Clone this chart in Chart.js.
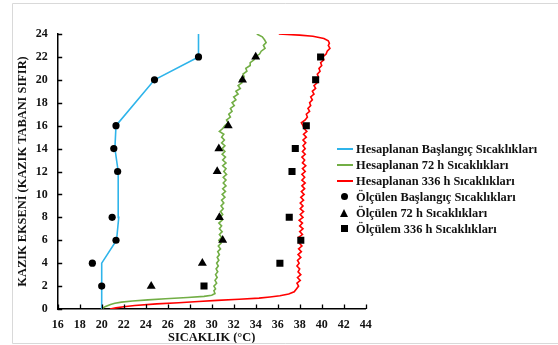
<!doctype html>
<html lang="tr">
<head>
<meta charset="UTF-8">
<title>Kazık sıcaklıkları</title>
<script src="https://cdn.jsdelivr.net/npm/chart.js"></script>
<style>
    body {
        margin: 0;
        background: #fff;
    }
    .wrap {
        position: relative;
        width: 558px;
        height: 345px;
    }
    .legend {
        position: absolute;
        left: 337px;
        top: 141px;
        font-family: "Liberation Serif", "Times New Roman", serif;
        font-weight: bold;
        font-size: 12.4px;
        color: #111;
    }
    .legend .row {
        height: 16px;
        line-height: 16px;
        white-space: nowrap;
        display: flex;
        align-items: center;
    }
    .legend .sym {
        width: 16px;
        height: 16px;
        margin-right: 3px;
        position: relative;
    }
    .sym .ln {
        position: absolute;
        left: 0;
        top: 7px;
        width: 16px;
        height: 2px;
    }
    .sym .dot {
        position: absolute;
        left: 4px;
        top: 4px;
        width: 7px;
        height: 7px;
        border-radius: 50%;
        background: #000;
    }
    .sym .tri {
        position: absolute;
        left: 3px;
        top: 4px;
        width: 0;
        height: 0;
        border-left: 4.5px solid transparent;
        border-right: 4.5px solid transparent;
        border-bottom: 8px solid #000;
    }
    .sym .sq {
        position: absolute;
        left: 4px;
        top: 4px;
        width: 7px;
        height: 7px;
        background: #000;
    }
</style>
</head>
<body>
<div class="wrap">
    <canvas id="tempChart" width="558" height="345"></canvas>
    <div class="legend" id="legend"></div>
</div>

<script>
    // derinlik (m) / sicaklik (°C)
    const hesapBaslangicDerinlik = [0, 4, 6, 8, 10, 12, 14, 16, 20, 22, 24];
    const hesapBaslangicSicaklik = [20.0, 20.0, 21.35, 21.55, 21.5, 21.5, 21.2, 21.3, 24.8, 28.8, 28.8];

    const hesap72Derinlik = [0, 0.2, 0.4, 0.5, 0.6, 0.7, 0.8, 0.9, 1.0, 1.1, 1.2, 1.35, 1.6,
        1.75, 2.0, 2.25, 2.5, 2.75, 3.0, 3.25, 3.5, 3.75, 4.0, 4.25, 4.5, 4.75, 5.0, 5.25, 5.5, 5.75,
        6.0, 6.25, 6.5, 6.75, 7.0, 7.25, 7.5, 7.75, 8.0, 8.25, 8.5, 8.75, 9.0, 9.25, 9.5, 9.75,
        10.0, 10.25, 10.5, 10.75, 11.0, 11.25, 11.5, 11.75, 12.0, 12.25, 12.5, 12.75, 13.0, 13.25,
        13.5, 13.75, 14.0, 14.25, 14.5, 14.75, 15.0, 15.25, 15.5, 15.75, 16.0, 16.25, 16.5, 16.75,
        17.0, 17.25, 17.5, 17.75, 18.0, 18.25, 18.5, 18.75, 19.0, 19.25, 19.5, 19.75, 20.0, 20.25,
        20.5, 20.75, 21.0, 21.25, 21.5, 21.75, 22.0, 22.25, 22.5, 22.75, 23.0, 23.25, 23.5, 23.75, 24.0];
    const hesap72Sicaklik = [20.0, 20.3, 20.8, 21.2, 21.8, 22.8, 24.2, 25.8, 27.8, 29.3, 30.0, 30.3, 30.2,
        30.35, 30.2, 30.45, 30.3, 30.5, 30.35, 30.55, 30.4, 30.6, 30.45, 30.65, 30.5, 30.7, 30.55, 30.8, 30.6, 30.85,
        30.65, 30.9, 30.7, 30.95, 30.7, 30.9, 30.65, 30.95, 30.75, 31.0, 30.8, 31.05, 30.85, 31.1, 30.9, 31.2,
        30.95, 31.25, 31.0, 31.3, 31.05, 31.3, 31.05, 31.35, 31.1, 31.3, 31.0, 31.3, 31.0, 31.25,
        30.95, 31.2, 30.95, 31.2, 30.9, 31.15, 30.9, 31.1, 30.7, 31.0, 31.2, 31.5, 31.35, 31.7,
        31.55, 31.85, 31.7, 32.05, 31.85, 32.2, 32.0, 32.4, 32.2, 32.6, 32.4, 32.75, 32.6, 32.95,
        32.85, 33.2, 33.1, 33.5, 33.5, 33.85, 33.95, 34.35, 34.5, 34.85, 34.7, 34.95, 34.8, 34.6, 34.1];

    const hesap336Derinlik = [0, 0.1, 0.2, 0.3, 0.45, 0.55, 0.65, 0.75, 0.85, 0.95, 1.05, 1.15, 1.3, 1.5, 1.75,
        2.0, 2.25, 2.5, 2.75, 3.0, 3.25, 3.5, 3.75, 4.0, 4.25, 4.5, 4.75, 5.0, 5.25, 5.5, 5.75,
        6.0, 6.25, 6.5, 6.75, 7.0, 7.25, 7.5, 7.75, 8.0, 8.25, 8.5, 8.75, 9.0, 9.25, 9.5, 9.75,
        10.0, 10.25, 10.5, 10.75, 11.0, 11.25, 11.5, 11.75, 12.0, 12.25, 12.5, 12.75, 13.0, 13.25,
        13.5, 13.75, 14.0, 14.25, 14.5, 14.75, 15.0, 15.25, 15.5, 15.75, 16.0, 16.25, 16.5, 16.75,
        17.0, 17.25, 17.5, 17.75, 18.0, 18.25, 18.5, 18.75, 19.0, 19.25, 19.5, 19.75, 20.0, 20.25,
        20.5, 20.75, 21.0, 21.25, 21.5, 21.75, 22.0, 22.25, 22.5, 22.75, 23.0, 23.2, 23.4, 23.6,
        23.8, 23.9, 24.0];
    const hesap336Sicaklik = [20.75, 21.3, 22.0, 23.0, 25.0, 27.0, 28.8, 30.5, 32.5, 34.3, 35.3, 36.2, 37.0, 37.5, 37.7,
        37.9, 37.75, 38.05, 37.8, 38.1, 37.85, 38.0, 37.75, 37.95, 37.8, 38.1, 37.85, 38.15, 37.9, 38.2, 37.95,
        38.2, 37.9, 38.25, 38.0, 38.3, 38.0, 38.25, 37.95, 38.3, 38.05, 38.35, 38.05, 38.3, 38.05, 38.35, 38.1,
        38.4, 38.15, 38.45, 38.2, 38.5, 38.2, 38.45, 38.2, 38.5, 38.25, 38.55, 38.25, 38.45, 38.2,
        38.5, 38.25, 38.5, 38.3, 38.55, 38.3, 38.6, 38.35, 38.65, 38.4, 38.3, 38.15, 38.5, 38.7,
        38.6, 38.9, 38.75, 39.0, 38.9, 39.15, 39.0, 39.3, 39.15, 39.45, 39.3, 39.6, 39.45, 39.7,
        39.6, 39.85, 39.75, 40.0, 39.9, 40.2, 40.1, 40.4, 40.5, 40.75, 40.6, 40.7, 40.6, 40.2,
        39.2, 38.0, 36.1];

    const olcumDerinlik = [2, 4, 6, 8, 12, 14, 16, 20, 22];
    const olcumBaslangic = [20.0, 19.15, 21.3, 20.95, 21.45, 21.1, 21.3, 24.8, 28.8];
    const olcum72 = [24.5, 29.15, 31.0, 30.7, 30.5, 30.65, 31.5, 32.8, 34.0];
    const olcum336 = [29.3, 36.2, 38.1, 37.05, 37.3, 37.6, 38.6, 39.45, 39.9];

    const xTicks = [16, 18, 20, 22, 24, 26, 28, 30, 32, 34, 36, 38, 40, 42, 44];
    const yTicks = [0, 2, 4, 6, 8, 10, 12, 14, 16, 18, 20, 22, 24];

    const etiketler = [
        'Hesaplanan Başlangıç Sıcaklıkları',
        'Hesaplanan 72 h Sıcaklıkları',
        'Hesaplanan 336 h Sıcaklıkları',
        'Ölçülen Başlangıç Sıcaklıkları',
        'Ölçülen 72 h Sıcaklıkları',
        'Ölçülem 336 h Sıcaklıkları'
    ];

    const MAVI = '#2fb4ea';
    const YESIL = '#72ae45';
    const KIRMIZI = '#ff0000';

    function noktalar(sicaklik, derinlik) {
        return sicaklik.map((t, i) => ({ x: t, y: derinlik[i] }));
    }

    const serif = '"Liberation Serif", "Times New Roman", serif';

    // eksenlere iceri bakan kucuk tikler + dis cerceve
    const ickiTikler = {
        id: 'ickiTikler',
        afterDraw(chart) {
            const { ctx, scales: { x, y }, chartArea } = chart;
            ctx.save();
            ctx.strokeStyle = '#000';
            ctx.lineWidth = 1.3;
            ctx.beginPath();
            xTicks.forEach(v => {
                const px = Math.round(x.getPixelForValue(v)) + 0.5;
                ctx.moveTo(px, chartArea.bottom);
                ctx.lineTo(px, chartArea.bottom - 4.5);
            });
            yTicks.forEach(v => {
                const py = Math.round(y.getPixelForValue(v)) + 0.5;
                ctx.moveTo(chartArea.left, py);
                ctx.lineTo(chartArea.left + 4.5, py);
            });
            ctx.stroke();

            ctx.strokeStyle = '#d9d9d9';
            ctx.lineWidth = 1;
            ctx.beginPath();
            ctx.moveTo(558, 3.5);
            ctx.lineTo(12.5, 3.5);
            ctx.lineTo(12.5, 343.5);
            ctx.lineTo(558, 343.5);
            ctx.stroke();
            ctx.restore();
        }
    };

    const ctx = document.getElementById('tempChart').getContext('2d');
    const chart = new Chart(ctx, {
        type: 'scatter',
        data: {
            datasets: [
                {
                    label: etiketler[0],
                    data: noktalar(hesapBaslangicSicaklik, hesapBaslangicDerinlik),
                    showLine: true,
                    borderColor: MAVI,
                    borderWidth: 1.6,
                    pointRadius: 0,
                    order: 3
                },
                {
                    label: etiketler[1],
                    data: noktalar(hesap72Sicaklik, hesap72Derinlik),
                    showLine: true,
                    borderColor: YESIL,
                    borderWidth: 1.6,
                    pointRadius: 0,
                    order: 3
                },
                {
                    label: etiketler[2],
                    data: noktalar(hesap336Sicaklik, hesap336Derinlik),
                    showLine: true,
                    borderColor: KIRMIZI,
                    borderWidth: 1.6,
                    pointRadius: 0,
                    order: 3
                },
                {
                    label: etiketler[3],
                    data: noktalar(olcumBaslangic, olcumDerinlik),
                    pointStyle: 'circle',
                    pointRadius: 3.6,
                    backgroundColor: '#000',
                    borderColor: '#000',
                    borderWidth: 0,
                    order: 1
                },
                {
                    label: etiketler[4],
                    data: noktalar(olcum72, olcumDerinlik),
                    pointStyle: 'triangle',
                    pointRadius: 5.2,
                    backgroundColor: '#000',
                    borderColor: '#000',
                    borderWidth: 0,
                    order: 1
                },
                {
                    label: etiketler[5],
                    data: noktalar(olcum336, olcumDerinlik),
                    pointStyle: 'rect',
                    pointRadius: 5,
                    backgroundColor: '#000',
                    borderColor: '#000',
                    borderWidth: 0,
                    order: 1
                }
            ]
        },
        options: {
            responsive: false,
            animation: false,
            devicePixelRatio: 1,
            layout: {
                padding: { left: 12, right: 192.3, top: 34, bottom: 0 }
            },
            plugins: {
                legend: { display: false },
                tooltip: { enabled: false }
            },
            scales: {
                x: {
                    type: 'linear',
                    min: 16,
                    max: 44,
                    afterFit: s => { s.height = 36; },
                    afterBuildTicks: s => { s.ticks = xTicks.map(v => ({ value: v })); },
                    grid: { display: true, drawOnChartArea: false, drawTicks: false },
                    border: { display: true, color: '#000', width: 1.5 },
                    ticks: {
                        padding: 9,
                        color: '#111',
                        font: { family: serif, size: 12, weight: 'bold' }
                    },
                    title: {
                        display: true,
                        text: 'SICAKLIK (°C)',
                        color: '#111',
                        padding: 0,
                        font: { family: serif, size: 12.4, weight: 'bold', lineHeight: 1.2 }
                    }
                },
                y: {
                    type: 'linear',
                    min: 0,
                    max: 24,
                    afterFit: s => { s.width = 45.7; },
                    afterBuildTicks: s => { s.ticks = yTicks.map(v => ({ value: v })); },
                    grid: { display: true, drawOnChartArea: false, drawTicks: false },
                    border: { display: true, color: '#000', width: 1.5 },
                    ticks: {
                        padding: 10,
                        color: '#111',
                        font: { family: serif, size: 12, weight: 'bold' }
                    },
                    title: {
                        display: true,
                        text: 'KAZIK EKSENİ (KAZIK TABANI SIFIR)',
                        color: '#111',
                        padding: { top: 3, bottom: 0 },
                        font: { family: serif, size: 12.4, weight: 'bold', lineHeight: 1.2 }
                    }
                }
            }
        },
        plugins: [ickiTikler]
    });

    // lejant
    const semboller = [
        `<span class="ln" style="background:${MAVI}"></span>`,
        `<span class="ln" style="background:${YESIL}"></span>`,
        `<span class="ln" style="background:${KIRMIZI}"></span>`,
        '<span class="dot"></span>',
        '<span class="tri"></span>',
        '<span class="sq"></span>'
    ];
    document.getElementById('legend').innerHTML = etiketler.map((t, i) =>
        `<div class="row"><span class="sym">${semboller[i]}</span><span>${t}</span></div>`
    ).join('');
</script>
</body>
</html>
